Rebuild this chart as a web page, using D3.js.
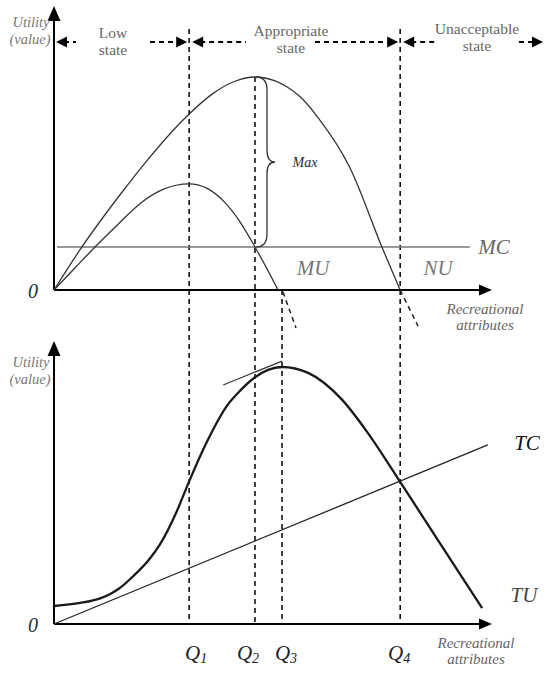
<!DOCTYPE html>
<html>
<head>
<meta charset="utf-8">
<script src="https://cdn.jsdelivr.net/npm/d3@7"></script>
<style>
  body { margin: 0; background: #fff; }
  svg { display: block; }
  .serif { font-family: "Liberation Serif", "DejaVu Serif", serif; }
</style>
</head>
<body>
<svg width="550" height="677"></svg>
<script>
// quantities on the x axis (recreational attributes, 0..100)
let qNames = ["1", "2", "3", "4"];
let qValues = [31.0, 46.1, 52.3, 79.4];

// header zones
let zoneTop = ["Low", "Appropriate", "Unacceptable"];
let zoneBottom = ["state", "state", "state"];

// top panel, utility 0..100
let mcLevel = 20.2;
let nuX = [0, 6.4, 15.1, 22.0, 29.6, 36.5, 41.5, 46.1, 50.7, 53.5, 56.4, 60.6, 67.9, 75.2, 79.4];
let nuY = [0, 20.2, 44.6, 62.4, 79.8, 92.3, 98.0, 100, 98.2, 95.3, 90.8, 80.8, 57.3, 20.2, 0];
let nuTailX = [79.4, 83.5];
let nuTailY = [0, -17.0];
let muX = [0, 5.0, 9.4, 15.0, 20.0, 25.0, 31.0, 35.0, 39.0, 42.5, 46.1, 51.4];
let muY = [0, 10.8, 20.2, 31.5, 41.0, 47.2, 49.8, 47.8, 41.5, 32.5, 20.2, 0];
let muTailX = [52.5, 55.5];
let muTailY = [-0.8, -17.8];

// bottom panel, utility 0..100
let tuX = [0, 6.0, 10.6, 12.8, 15.1, 18.1, 22.0, 24.3, 28.2, 31.0, 35.1, 39.7, 42.7, 46.1, 49.1, 52.3, 58.3, 66.1, 72.0, 79.4, 88.5, 98.2];
let tuY = [7.0, 8.2, 10.0, 11.6, 14.0, 18.5, 25.5, 31.0, 44.0, 55.5, 71.0, 85.0, 90.8, 96.0, 98.9, 100, 97.7, 87.2, 74.3, 55.3, 31.5, 6.2];
let tcX = [0, 99.5];
let tcY = [0, 69.7];
let tangentX = [38.8, 52.3];
let tangentY = [93.0, 102.3];

let svg = d3.select('svg');

let x = d3.scaleLinear().domain([0, 100]).range([54, 490]);
let yTop = d3.scaleLinear().domain([0, 100]).range([290, 77]);
let yBot = d3.scaleLinear().domain([0, 100]).range([624, 367]);

let headerY = 42;

function pts(xs, ys) {
    return xs.map((v, i) => [v, ys[i]]);
}

function arrowHead(g, tipX, tipY, dir, len, half) {
    // dir: 'up', 'left', 'right'
    let p;
    if (dir == 'up') p = [[tipX, tipY], [tipX - half, tipY + len], [tipX + half, tipY + len]];
    if (dir == 'right') p = [[tipX, tipY], [tipX - len, tipY - half], [tipX - len, tipY + half]];
    if (dir == 'left') p = [[tipX, tipY], [tipX + len, tipY - half], [tipX + len, tipY + half]];
    g.append('path').attr('d', 'M' + p.join('L') + 'Z').style('fill', '#000');
}

// ---------- vertical dashed Q lines ----------
let vg = svg.append('g');
qValues.forEach(function (q, i) {
    let y1;
    if (i == 0 || i == 3) y1 = headerY - 13;
    else if (i == 1) y1 = yTop(100);
    else y1 = yTop(0);
    vg.append('line')
        .attr('x1', x(q)).attr('x2', x(q))
        .attr('y1', y1).attr('y2', yBot(0))
        .style('stroke', '#111')
        .style('stroke-width', 1.6)
        .style('stroke-dasharray', '5,4');
});

// ---------- header ----------
let hg = svg.append('g');
let bounds = [x(0), x(qValues[0]), x(qValues[3]), 543];
let textCenters = [113, 291, 477];
let textHalf = [37, 45, 42];
for (let i = 0; i < 3; i++) {
    let left = bounds[i] + (i == 0 ? 2 : 3);
    let right = bounds[i + 1] - (i == 2 ? 0 : 2);
    let segs = [[left + 8, textCenters[i] - textHalf[i]], [textCenters[i] + textHalf[i] - (i == 1 ? 21 : 0), right - 8]];
    segs.forEach(s => {
        hg.append('line')
            .attr('x1', s[0]).attr('x2', s[1])
            .attr('y1', headerY).attr('y2', headerY)
            .style('stroke', '#000')
            .style('stroke-width', 2)
            .style('stroke-dasharray', '5,4');
    });
    arrowHead(hg, left, headerY, 'left', 11, 5.5);
    arrowHead(hg, right, headerY, 'right', 11, 5.5);
    hg.append('text').attr('class', 'serif')
        .attr('x', textCenters[i]).attr('y', [38, 36, 34][i])
        .attr('text-anchor', 'middle')
        .style('font-size', '15.5px').style('fill', '#666')
        .text(zoneTop[i]);
    hg.append('text').attr('class', 'serif')
        .attr('x', textCenters[i]).attr('y', [55, 53, 51][i])
        .attr('text-anchor', 'middle')
        .style('font-size', '15.5px').style('fill', '#666')
        .text(zoneBottom[i]);
}

// ---------- axes ----------
function drawAxes(yScale, tipY, labelY) {
    let g = svg.append('g');
    g.append('line')
        .attr('x1', x(0)).attr('x2', x(0))
        .attr('y1', yScale(0)).attr('y2', tipY + 10)
        .style('stroke', '#000').style('stroke-width', 2);
    arrowHead(g, x(0), tipY, 'up', 15, 6.5);
    g.append('line')
        .attr('x1', x(0)).attr('x2', 482)
        .attr('y1', yScale(0)).attr('y2', yScale(0))
        .style('stroke', '#000').style('stroke-width', 2);
    arrowHead(g, 492, yScale(0), 'right', 13, 5.5);

    g.append('text').attr('class', 'serif')
        .attr('x', 31).attr('y', labelY)
        .attr('text-anchor', 'middle')
        .style('font-size', '14.5px').style('font-style', 'italic').style('fill', '#777')
        .text('Utility');
    g.append('text').attr('class', 'serif')
        .attr('x', 30).attr('y', labelY + 17)
        .attr('text-anchor', 'middle')
        .style('font-size', '14.5px').style('font-style', 'italic').style('fill', '#777')
        .text('(value)');

    g.append('text').attr('class', 'serif')
        .attr('x', 33).attr('y', yScale(0) + 8)
        .attr('text-anchor', 'middle')
        .style('font-size', '20px').style('font-style', 'italic').style('fill', '#1d2b3c')
        .text('0');
    return g;
}

drawAxes(yTop, 6, 27);
drawAxes(yBot, 341, 367);

function attrLabel(cx, y) {
    svg.append('text').attr('class', 'serif')
        .attr('x', cx).attr('y', y)
        .attr('text-anchor', 'middle')
        .style('font-size', '15px').style('font-style', 'italic').style('fill', '#666')
        .text('Recreational');
    svg.append('text').attr('class', 'serif')
        .attr('x', cx).attr('y', y + 16)
        .attr('text-anchor', 'middle')
        .style('font-size', '15px').style('font-style', 'italic').style('fill', '#666')
        .text('attributes');
}
attrLabel(485, 314);
attrLabel(476, 648);

// ---------- top panel ----------
let lineTop = d3.line().x(d => x(d[0])).y(d => yTop(d[1])).curve(d3.curveMonotoneX);
let tg = svg.append('g');

tg.append('line')
    .attr('x1', x(0.7)).attr('x2', x(95.4))
    .attr('y1', yTop(mcLevel)).attr('y2', yTop(mcLevel))
    .style('stroke', '#777').style('stroke-width', 1.6);

tg.append('path').datum(pts(nuX, nuY))
    .attr('d', lineTop)
    .style('fill', 'none').style('stroke', '#333').style('stroke-width', 1.3);
tg.append('path').datum(pts(muX, muY))
    .attr('d', lineTop)
    .style('fill', 'none').style('stroke', '#333').style('stroke-width', 1.3);

[[nuTailX, nuTailY], [muTailX, muTailY]].forEach(t => {
    tg.append('path').datum(pts(t[0], t[1]))
        .attr('d', d3.line().x(d => x(d[0])).y(d => yTop(d[1])))
        .style('fill', 'none').style('stroke', '#222').style('stroke-width', 1.5)
        .style('stroke-dasharray', '5,4');
});

// brace between peak and MC
let bx = x(qValues[1]);
let bTop = yTop(100), bBot = yTop(mcLevel), bMid = (bTop + bBot) / 2;
tg.append('path')
    .attr('d', 'M' + (bx + 1) + ',' + bTop +
        ' Q' + (bx + 12) + ',' + bTop + ' ' + (bx + 12) + ',' + (bTop + 13) +
        ' L' + (bx + 12) + ',' + (bMid - 12) +
        ' Q' + (bx + 12) + ',' + bMid + ' ' + (bx + 20) + ',' + bMid +
        ' Q' + (bx + 12) + ',' + bMid + ' ' + (bx + 12) + ',' + (bMid + 12) +
        ' L' + (bx + 12) + ',' + (bBot - 13) +
        ' Q' + (bx + 12) + ',' + bBot + ' ' + (bx + 1) + ',' + bBot)
    .style('fill', 'none').style('stroke', '#333').style('stroke-width', 1.3);
tg.append('text').attr('class', 'serif')
    .attr('x', bx + 50).attr('y', bMid + 5)
    .attr('text-anchor', 'middle')
    .style('font-size', '14px').style('font-style', 'italic').style('fill', '#1d2b3c')
    .text('Max');

function bigLabel(g, txt, cx, cy, color) {
    g.append('text').attr('class', 'serif')
        .attr('x', cx).attr('y', cy + 7)
        .attr('text-anchor', 'middle')
        .style('font-size', '21px').style('font-style', 'italic').style('fill', color)
        .text(txt);
}
bigLabel(tg, 'MC', 494, yTop(mcLevel), '#666');
bigLabel(tg, 'MU', 313, 268, '#777');
bigLabel(tg, 'NU', 438, 268, '#777');

// ---------- bottom panel ----------
let lineBot = d3.line().x(d => x(d[0])).y(d => yBot(d[1])).curve(d3.curveMonotoneX);
let bg = svg.append('g');

bg.append('path').datum(pts(tcX, tcY))
    .attr('d', lineBot)
    .style('fill', 'none').style('stroke', '#222').style('stroke-width', 1.3);
bg.append('path').datum(pts(tangentX, tangentY))
    .attr('d', lineBot)
    .style('fill', 'none').style('stroke', '#333').style('stroke-width', 1.3);
bg.append('path').datum(pts(tuX, tuY))
    .attr('d', lineBot)
    .style('fill', 'none').style('stroke', '#1a1a1a').style('stroke-width', 2.3);

bigLabel(bg, 'TC', 527, 443, '#111');
bigLabel(bg, 'TU', 524, 595, '#444');

// Q tick labels
let qShift = [7, -7, 4, -1];
qValues.forEach(function (q, i) {
    let t = bg.append('text').attr('class', 'serif')
        .attr('x', x(q) + qShift[i]).attr('y', 660)
        .attr('text-anchor', 'middle')
        .style('font-style', 'italic').style('fill', '#222');
    t.append('tspan').style('font-size', '21px').text('Q');
    t.append('tspan').attr('dy', 3).style('font-size', '14px').text(qNames[i]);
});
</script>
</body>
</html>
